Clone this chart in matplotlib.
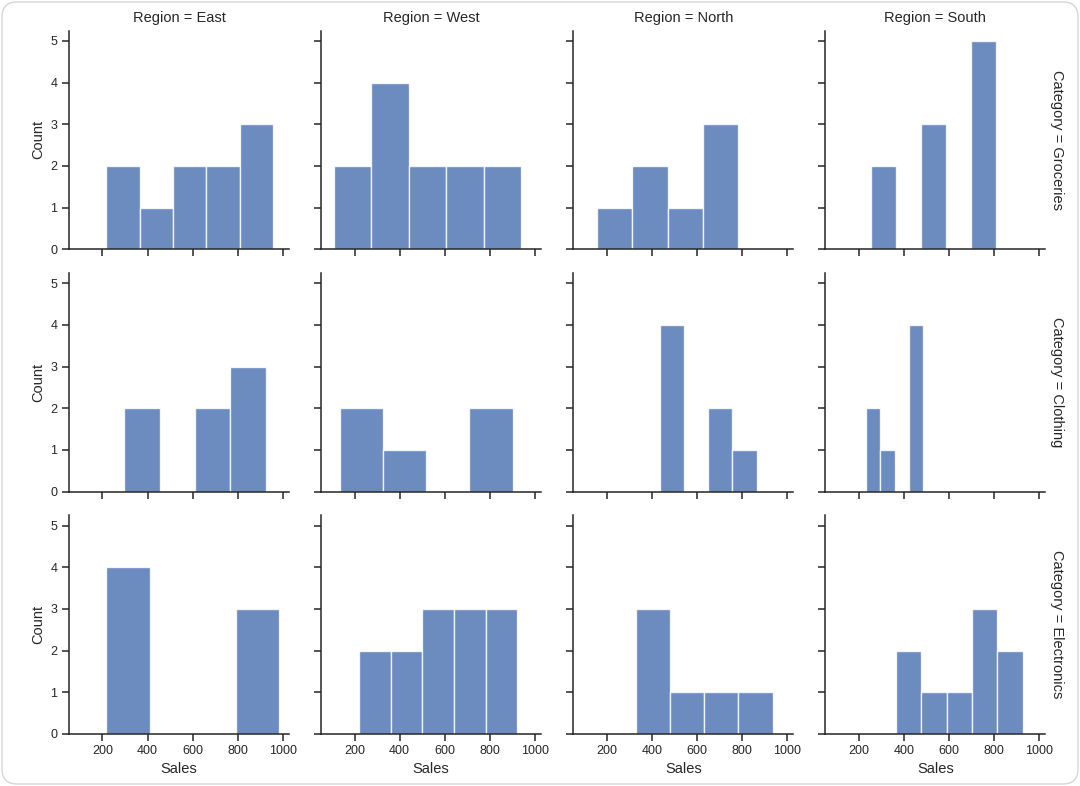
import matplotlib
matplotlib.use("Agg")
import matplotlib.pyplot as plt
from matplotlib.patches import FancyBboxPatch
import numpy as np

regions = ["East", "West", "North", "South"]
categories = ["Groceries", "Clothing", "Electronics"]

# histogram bins per panel: first edge, bin width, counts (one entry per region)
groceries_start = [218, 107, 159, 253]
groceries_width = [147.6, 166.4, 155.5, 111]
groceries_counts = [[2, 1, 2, 2, 3], [2, 4, 2, 2, 2], [1, 2, 1, 3], [2, 0, 3, 0, 5]]

clothing_start = [296, 136, 436, 233]
clothing_width = [157, 191, 107, 63]
clothing_counts = [[2, 0, 2, 3], [2, 1, 0, 2], [4, 0, 2, 1], [2, 1, 0, 4]]

electronics_start = [218, 221, 331, 366]
electronics_width = [191, 140, 151, 112]
electronics_counts = [[4, 0, 0, 3], [2, 2, 3, 3, 3], [3, 1, 1, 1], [2, 1, 1, 3, 2]]

x_ticks = [200, 400, 600, 800, 1000]
y_ticks = [0, 1, 2, 3, 4, 5]

starts = [groceries_start, clothing_start, electronics_start]
widths = [groceries_width, clothing_width, electronics_width]
counts = [groceries_counts, clothing_counts, electronics_counts]

ink = "#262626"
plt.rcParams["font.family"] = ["Liberation Sans", "DejaVu Sans"]
plt.rcParams["text.color"] = ink
plt.rcParams["axes.labelcolor"] = ink
plt.rcParams["xtick.color"] = ink
plt.rcParams["ytick.color"] = ink

fig, axes = plt.subplots(3, 4, figsize=(10.8, 7.86), dpi=100, sharex=True, sharey=True)
fig.subplots_adjust(left=0.0639, right=0.968, bottom=0.0662, top=0.9611,
                    wspace=0.145, hspace=0.108)

for i, cat in enumerate(categories):
    for j, reg in enumerate(regions):
        ax = axes[i, j]
        c = counts[i][j]
        w = widths[i][j]
        edges = starts[i][j] + w * np.arange(len(c))
        ax.bar(edges, c, width=w, align="edge", color="#4C72B0", alpha=0.82,
               edgecolor="white", linewidth=1.0)
        for s in ["top", "right"]:
            ax.spines[s].set_visible(False)
        for s in ["left", "bottom"]:
            ax.spines[s].set_color(ink)
            ax.spines[s].set_linewidth(1.1)
        ax.tick_params(length=4.8, width=1.1, labelsize=9, pad=3.5)
        ax.set_xlim(52, 1027)
        ax.set_ylim(0, 5.25)
        ax.set_xticks(x_ticks)
        ax.set_yticks(y_ticks)
        if i == 0:
            ax.set_title(f"Region = {reg}", fontsize=10.5, pad=6)
        if j == 0:
            ax.set_ylabel("Count", fontsize=10.5)
        if i == 2:
            ax.set_xlabel("Sales", fontsize=10.5, labelpad=3)
        if j == 3:
            ax.annotate(f"Category = {cat}", xy=(1.02, 0.5), xycoords="axes fraction",
                        rotation=270, ha="left", va="center", fontsize=10.5)

# light rounded frame round the picture
frame = FancyBboxPatch((0.02, 0.02), 10.76, 7.82, boxstyle="round,pad=0,rounding_size=0.15",
                       transform=fig.dpi_scale_trans, facecolor="none",
                       edgecolor="#d6d6d6", linewidth=1.0)
fig.patches.append(frame)

fig.savefig("out.png", dpi=100)
